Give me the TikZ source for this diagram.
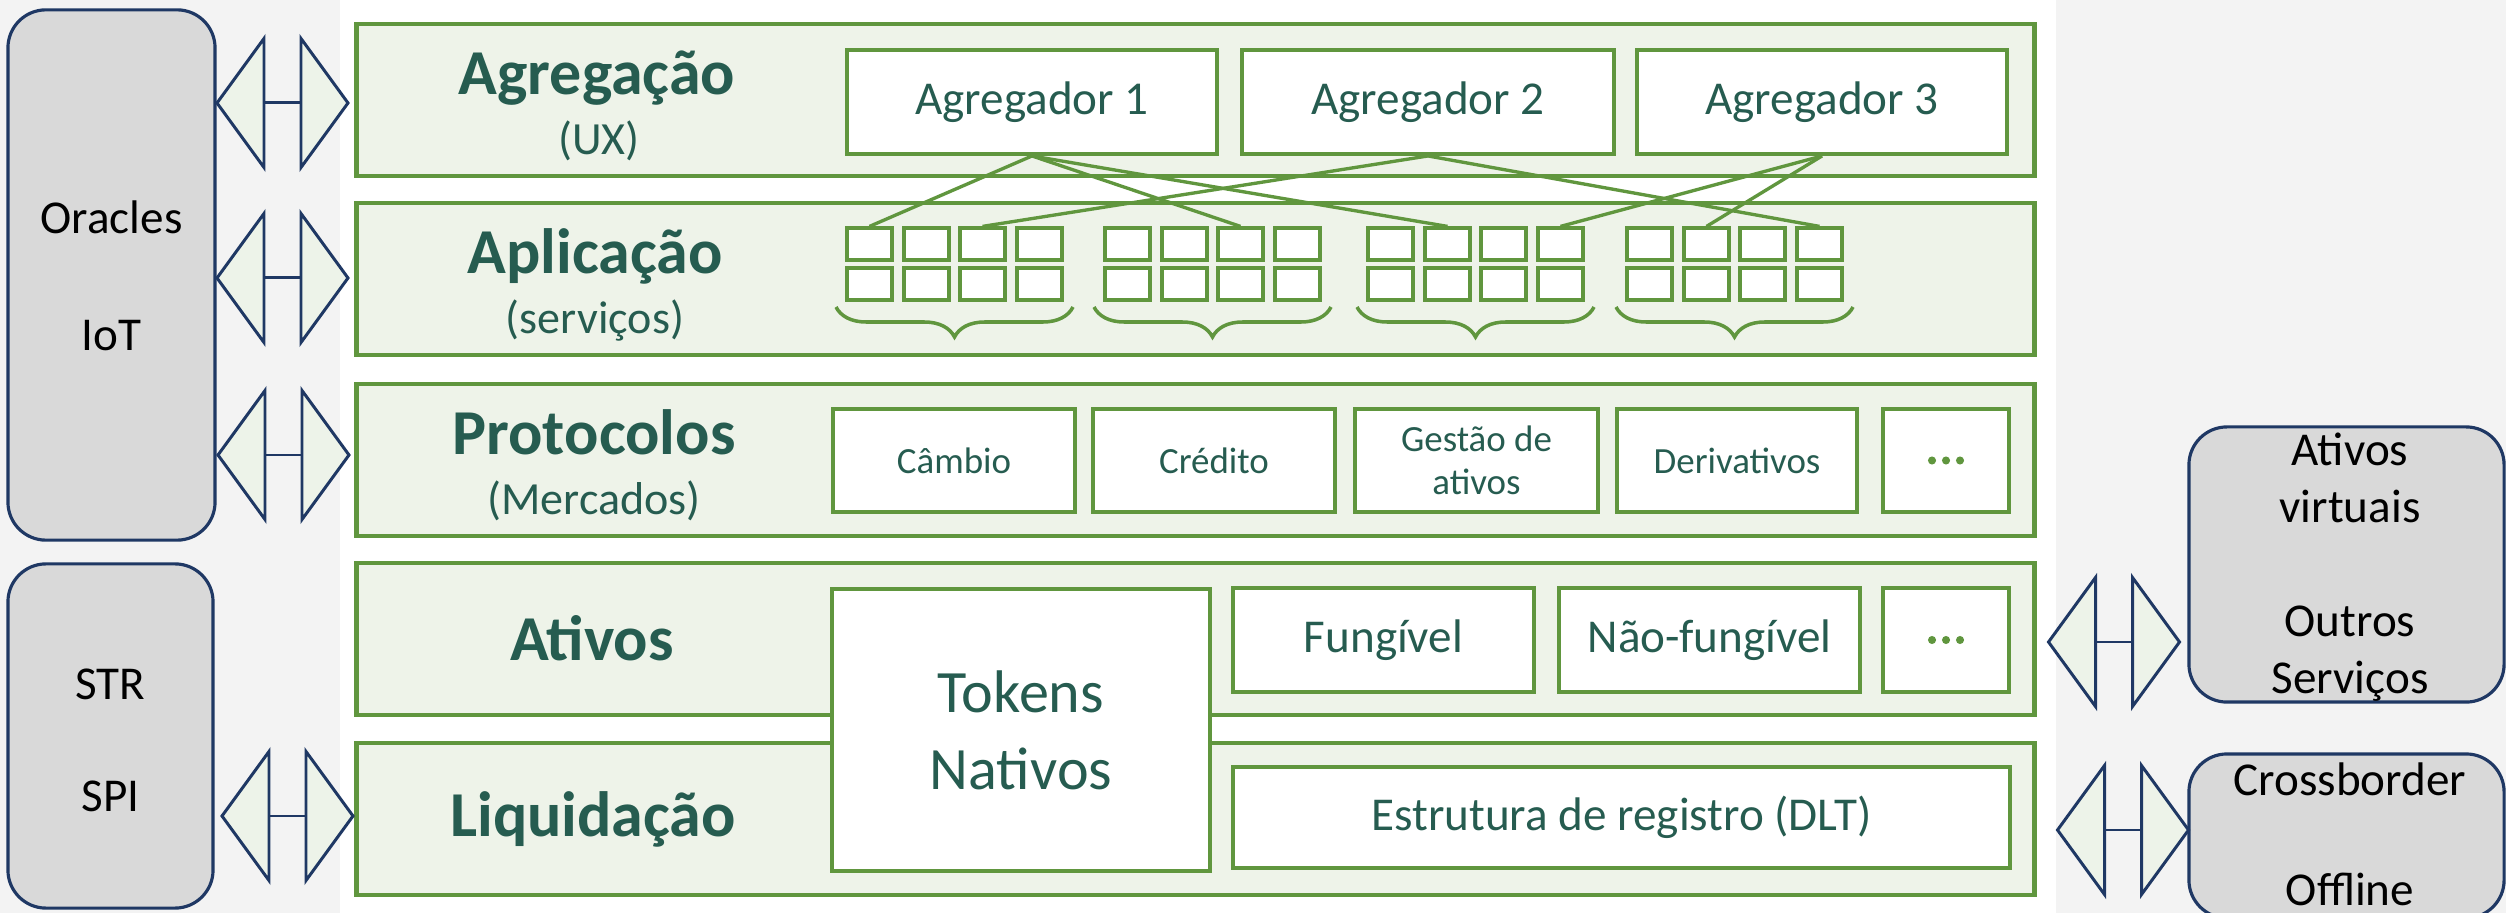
\documentclass[tikz,border=0pt]{standalone}
\usepackage{fontspec}
\setmainfont{Carlito}
\usetikzlibrary{decorations.pathreplacing,calc}
\definecolor{lgreen}{RGB}{96,150,62}
\definecolor{layerfill}{RGB}{238,243,233}
\definecolor{tealtxt}{RGB}{38,92,80}
\definecolor{navy}{RGB}{31,56,100}
\definecolor{arrowfill}{RGB}{237,243,233}
\definecolor{graybox}{RGB}{217,217,217}
\definecolor{bgstrip}{RGB}{243,243,243}
\tikzset{
  layer/.style={draw=lgreen, line width=1.2pt, fill=layerfill, minimum width=16.77cm, minimum height=1.52cm, inner sep=0pt},
  ttl/.style={text=tealtxt, font=\fontsize{18.2}{21}\selectfont\bfseries, inner sep=0pt},
  subt/.style={text=tealtxt, font=\fontsize{13.1}{15.5}\selectfont, inner sep=0pt},
  ibox/.style={draw=lgreen, line width=1.1pt, fill=white, inner sep=0pt, text=tealtxt, align=center, font=\fontsize{13.4}{16}\selectfont},
  pbox/.style={ibox, font=\fontsize{10.5}{12.2}\selectfont, minimum height=1.03cm},
  sbox/.style={draw=lgreen, line width=0.9pt, fill=white, minimum width=0.45cm, minimum height=0.32cm, inner sep=0pt},
  link/.style={draw=lgreen, line width=0.95pt},
  bracest/.style={draw=lgreen, line width=1pt, decorate, decoration={brace, mirror, amplitude=0.3cm}},
  gbox/.style={draw=navy, fill=graybox, line width=0.9pt, rounded corners=0.38cm, inner sep=0pt},
  gtxt/.style={text=black, align=center, inner sep=0pt},
  dblarrow/.pic={
    \filldraw[fill=arrowfill, draw=navy, line width=0.85pt] (-65.5,0) -- (-18.5,-64.5) -- (-18.5,64.5) -- cycle;
    \filldraw[fill=arrowfill, draw=navy, line width=0.85pt] (18.5,-64.5) -- (65.5,0) -- (18.5,64.5) -- cycle;
    \draw[navy, line width=0.85pt] (-18.5,0) -- (18.5,0);
  }
}
\begin{document}
\begin{tikzpicture}[x=0.01cm,y=-0.01cm]
\useasboundingbox (0,0) rectangle (2506,913);
\clip (0,0) rectangle (2506,913);
\fill[white] (0,0) rectangle (2506,913);
\fill[bgstrip] (0,0) rectangle (340,913);
\fill[bgstrip] (2056,0) rectangle (2506,913);

% layers
\node[layer] (Lag) at (1195.5,100) {};
\node[layer] (Lap) at (1195.5,279) {};
\node[layer] (Lpr) at (1195.5,460) {};
\node[layer] (Lat) at (1195.5,639) {};
\node[layer] (Lli) at (1195.5,819) {};

% titles
\node[ttl, anchor=base] (Tag) at (597,95) {Agregação};
\node[subt, anchor=base] (Sag) at (599,155) {(UX)};
\node[ttl, anchor=base] (Tap) at (595,274) {Aplicação};
\node[subt, anchor=base] (Sap) at (595,334) {(serviços)};
\node[ttl, anchor=base] (Tpr) at (594,455) {Protocolos};
\node[subt, anchor=base] (Spr) at (594,515) {(Mercados)};
\node[ttl, anchor=base] (Tat) at (592,661) {Ativos};
\node[ttl, anchor=base] (Tli) at (593,837) {Liquidação};

% aggregators
\node[ibox, minimum width=3.70cm, minimum height=1.04cm] (ag1) at (1032,102) {Agregador 1};
\node[ibox, minimum width=3.72cm, minimum height=1.04cm] (ag2) at (1428,102) {Agregador 2};
\node[ibox, minimum width=3.70cm, minimum height=1.04cm] (ag3) at (1822,102) {Agregador 3};

% service boxes
\foreach \g/\gx in {1/847,2/1105,3/1368,4/1627}{
  \foreach \c/\cx in {1/0,2/57,3/113,4/170}{
    \node[sbox] (s\g\c1) at (\gx+\cx+22.5,244) {};
    \node[sbox] (s\g\c2) at (\gx+\cx+22.5,284) {};
  }
  \draw[bracest] (\gx-11,307) -- (\gx+226,307);
}

% links
\draw[link] (ag1.south) -- (s111.north);
\draw[link] (ag1.south) -- (s231.north);
\draw[link] (ag1.south) -- (s321.north);
\draw[link] (ag2.south) -- (s131.north);
\draw[link] (ag2.south) -- (s441.north);
\draw[link] (ag3.south) -- (s341.north);
\draw[link] (ag3.south) -- (s421.north);

% protocols
\node[pbox, minimum width=2.42cm] (cam) at (954,460.5) {Câmbio};
\node[pbox, minimum width=2.42cm] (cred) at (1214,460.5) {Crédito};
\node[pbox, minimum width=2.43cm] (gest) at (1476.5,460.5) {Gestão de\\ativos};
\node[pbox, minimum width=2.40cm] (deriv) at (1737,460.5) {Derivativos};
\node[pbox, minimum width=1.26cm] (pdots) at (1946,460.5) {};
\foreach \d in {-14,0,14} \fill[lgreen] ($(pdots.center)+(\d,0)$) circle[radius=1.15pt];

% assets / settlement
\node[ibox, minimum width=3.78cm, minimum height=2.82cm, font=\fontsize{17.1}{21.9}\selectfont] (tok) at (1021,730) {Tokens\\Nativos};
\node[ibox, minimum width=3.01cm, minimum height=1.04cm] (fung) at (1383.5,640) {Fungível};
\node[ibox, minimum width=3.01cm, minimum height=1.04cm] (nfung) at (1709.5,640) {Não-fungível};
\node[ibox, minimum width=1.26cm, minimum height=1.04cm] (adots) at (1946,640) {};
\foreach \d in {-14,0,14} \fill[lgreen] ($(adots.center)+(\d,0)$) circle[radius=1.15pt];
\node[ibox, minimum width=7.77cm, minimum height=1.01cm] (dlt) at (1621.5,817.5) {Estrutura de registro (DLT)};

% gray boxes
\node[gbox, minimum width=2.07cm, minimum height=5.30cm] (orac) at (111.5,275) {};
\node[gtxt, font=\fontsize{13.4}{16.6}\selectfont] (oract) at (111.5,276) {Oracles\\[16.6pt]IoT};
\node[gbox, minimum width=2.05cm, minimum height=3.44cm] (strspi) at (110.5,736) {};
\node[gtxt, font=\fontsize{13.4}{15.9}\selectfont] (strspit) at (110.5,740) {STR\\[15.9pt]SPI};
\node[gbox, minimum width=3.15cm, minimum height=2.75cm] (ativv) at (2346.5,564.5) {};
\node[gtxt, font=\fontsize{13.4}{16.2}\selectfont] (ativvt) at (2350,567) {Ativos\\virtuais\\[16.2pt]Outros\\Serviços};
\node[gbox, minimum width=3.15cm, minimum height=1.64cm] (cross) at (2346.5,836) {};
\node[gtxt, font=\fontsize{13.4}{15.65}\selectfont] (crosst) at (2350,834) {Crossborder\\[15.65pt]Offline};

% double arrows
\pic at (282.5,103) {dblarrow};
\pic at (282.5,278) {dblarrow};
\pic at (283.5,455) {dblarrow};
\pic at (287.5,816) {dblarrow};
\pic at (2114,642) {dblarrow};
\pic at (2123,830) {dblarrow};
\end{tikzpicture}
\end{document}
